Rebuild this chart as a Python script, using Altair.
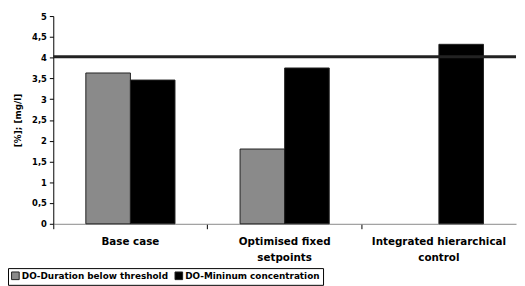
import altair as alt
import pandas as pd

categories = ["Base case", "Optimised fixed setpoints", "Integrated hierarchical control"]
series = ["DO-Duration below threshold", "DO-Mininum concentration"]
duration = [3.63, 1.80, 0.0]
minimum = [3.46, 3.75, 4.32]
threshold = 4.02
y_ticks = [0, 0.5, 1, 1.5, 2, 2.5, 3, 3.5, 4, 4.5, 5]

rows = []
for c, d, m in zip(categories, duration, minimum):
    rows.append({"cat": c, "series": series[0], "value": d})
    rows.append({"cat": c, "series": series[1], "value": m})
df = pd.DataFrame(rows)

FONT = "DejaVu Sans"

y_axis = alt.Axis(values=y_ticks, grid=False, tickSize=4, tickColor="#000",
                  domainColor="#000", labelFontWeight="bold", labelFontSize=8.5,
                  labelFont=FONT, labelColor="#000", labelPadding=3,
                  labelOverlap=False,
                  labelExpr="replace(format(datum.value, '.1~f'), '.', ',')",
                  titleFont=FONT, titleFontSize=9, titleFontWeight="bold",
                  titleColor="#000", titlePadding=9)

bars = alt.Chart(df).mark_bar(stroke="#222", strokeWidth=1).encode(
    x=alt.X("cat:N", sort=categories, title=None,
            scale=alt.Scale(paddingInner=0, paddingOuter=0),
            axis=alt.Axis(labelAngle=0, bandPosition=0, tickSize=5, tickColor="#000",
                          domainColor="#888", labelFontWeight="bold", labelFontSize=10.5,
                          labelFont=FONT, labelColor="#000", labelPadding=8,
                          labelLineHeight=16,
                          labelExpr="datum.label == 'Optimised fixed setpoints' ? ['Optimised fixed', 'setpoints'] : datum.label == 'Integrated hierarchical control' ? ['Integrated hierarchical', 'control'] : datum.label")),
    xOffset=alt.XOffset("series:N", sort=series,
                        scale=alt.Scale(paddingInner=0, paddingOuter=0.73)),
    y=alt.Y("value:Q", title="[%]; [mg/l]",
            scale=alt.Scale(domain=[0, 5], nice=False), axis=y_axis),
    color=alt.Color("series:N", sort=series,
                    scale=alt.Scale(domain=series, range=["#8a8a8a", "#000000"]),
                    legend=alt.Legend(title=None, orient="none", legendX=-46, legendY=256,
                                      direction="horizontal", symbolType="square",
                                      symbolSize=60, symbolStrokeColor="#222",
                                      symbolStrokeWidth=1, labelFont=FONT,
                                      labelFontSize=9, labelFontWeight="bold",
                                      labelColor="#000", columnPadding=4,
                                      labelOffset=2,
                                      strokeColor="#000", padding=3)),
    strokeOpacity=alt.condition(alt.datum.value > 0, alt.value(1), alt.value(0)),
)

rule = alt.Chart(pd.DataFrame({"t": [threshold]})).mark_rule(
    color="#222", strokeWidth=3).encode(
    y=alt.Y("t:Q", title="[%]; [mg/l]", scale=alt.Scale(domain=[0, 5], nice=False),
            axis=y_axis))

chart = alt.layer(bars, rule).properties(
    width=470, height=211,
    autosize=alt.AutoSizeParams(type="none"),
    padding={"left": 46, "top": 6, "right": 1, "bottom": 62},
).configure_view(stroke=None)

chart.save("out.html", embed_options={"renderer": "svg", "actions": False})
